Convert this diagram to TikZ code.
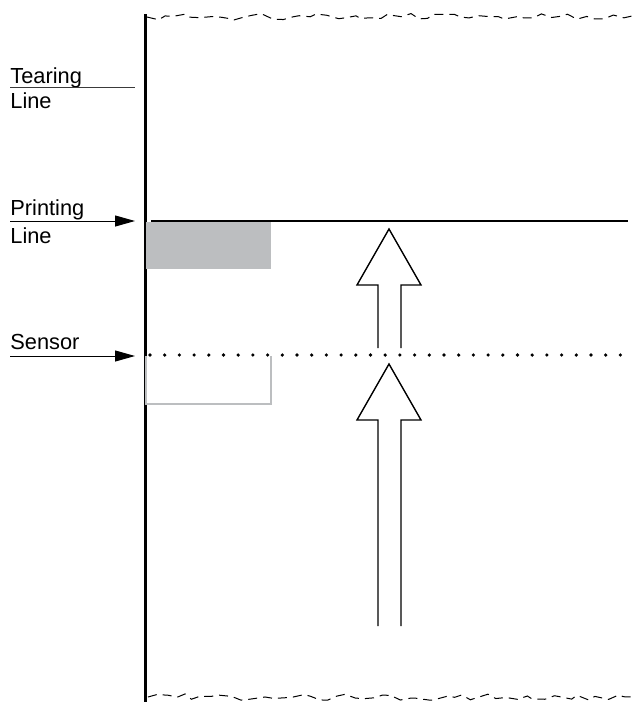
\documentclass[tikz,border=0pt]{standalone}
\usepackage{fontspec}
\setmainfont{Liberation Sans}
\usetikzlibrary{arrows.meta,positioning,calc,decorations.pathmorphing}
\definecolor{paperline}{HTML}{000000}
\definecolor{markgray}{HTML}{BCBEC0}
\definecolor{rulegray}{HTML}{3A3A3A}
\tikzset{label/.style={anchor=base west,inner sep=0pt,font=\fontsize{10.9}{12}\selectfont},
  pointer/.style={-{Triangle[length=10pt,width=5.5pt]},line width=0.5pt,draw=paperline},
  torn/.style={draw=paperline,line width=0.5pt,decorate,
  decoration={random steps,segment length=4.5pt,amplitude=1.6pt},dash pattern=on 4.5pt off 3pt},
  blockarrow/.style={draw=paperline,line width=0.7pt,line join=miter}}

\begin{document}
\begin{tikzpicture}[x=0.5pt,y=-0.5pt]
\useasboundingbox (0,0) rectangle (632,702);
\pgfmathsetseed{4711}
% paper edge and torn ends
\coordinate (paperTop) at (145,14);
\coordinate (paperBot) at (145,702);
\draw[line width=1.5pt,draw=paperline] (paperTop)--(paperBot);
\draw[torn] (147,17)--(632,16);
\draw[torn] (148,697)--(632,697);
% labels
\node[label] (tear) at (10,83) {Tearing};
\node[label] (tearb) at (10,108) {Line};
\node[label] (print) at (10,215) {Printing};
\node[label] (printb) at (10,243) {Line};
\node[label] (sens) at (10,349) {Sensor};
\coordinate (tearL) at (10,87);\coordinate (tearR) at (135,87);
\coordinate (printL) at (10,221);\coordinate (printR) at (135,221);
\coordinate (sensL) at (10,356);\coordinate (sensR) at (135,356);
\draw[line width=0.5pt,draw=rulegray] (tearL)--(tearR);
\draw[pointer] (printL)--(printR);
\draw[pointer] (sensL)--(sensR);
% printing line with printed mark
\fill[markgray] (146,222) rectangle (271,269);
\draw[line width=1.3pt,draw=paperline] (151,221)--(628,221);
% sensor line with mark position
\draw[markgray,line width=1pt] (146,356)--(146,404)--(271,404)--(271,356);
\draw[paperline,line width=1.8pt,line cap=round,dash pattern=on 0pt off 7.35pt] (150,355)--(628,355);
% feed direction
\foreach \tip/\foot in {229/348,364/626}{
  \draw[blockarrow] (378,\foot)--(378,\tip+56)--(357,\tip+56)--(389,\tip)
    --(421,\tip+56)--(401,\tip+56)--(401,\foot);}
\end{tikzpicture}
\end{document}
